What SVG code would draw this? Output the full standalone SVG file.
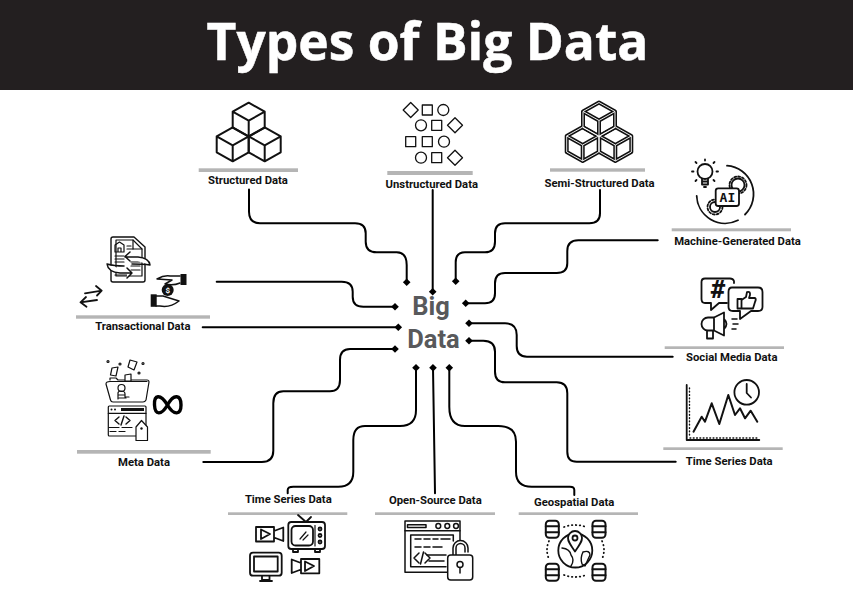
<svg xmlns="http://www.w3.org/2000/svg" width="853" height="597" viewBox="0 0 853 597">
<style>
.lbl{font-family:"Roboto","Liberation Sans",sans-serif;font-weight:700;font-size:11.300px;fill:#111;text-anchor:middle}
.bar{fill:#b5b5b5}
.cn{fill:none;stroke:#000;stroke-width:2;stroke-linecap:round;marker-end:url(#dia)}
.i{fill:none;stroke:#111;stroke-width:1.8;stroke-linecap:round;stroke-linejoin:round}
.t{stroke-width:1.2}
.w{fill:#fff}
.k{fill:#111;stroke:none}
.big{font-family:"Roboto","Noto Sans",sans-serif;font-weight:700;font-size:25.500px;fill:#58595b;text-anchor:middle}
.mono{font-family:"DejaVu Sans Mono","Liberation Mono",monospace;font-weight:700;fill:#111;stroke:none;text-anchor:middle}
</style>
<defs>
<marker id="dia" markerUnits="userSpaceOnUse" markerWidth="10" markerHeight="10" refX="5" refY="5" orient="auto"><path d="M5,1.200 8.800,5 5,8.800 1.200,5Z" fill="#000"/></marker>
<path id="cube" fill="none" stroke-linejoin="round" d="M0,0 16,9V25L0,34-16,25V9ZM-16,9 0,18 16,9M0,18V34"/>
<g id="cyl" class="i" style="stroke-width:2"><rect x="-6.500" y="-8.500" width="13" height="17" rx="3.500" class="w"/><path d="M-6.500,-3H6.500M-6.500,3H6.500"/></g>
</defs>
<rect width="853" height="90" fill="#231f20"/>
<text x="427.500" y="60" text-anchor="middle" font-family="'Open Sans','Noto Sans',sans-serif" font-weight="700" font-size="51.500" fill="#fff" stroke="#fff" stroke-width="0.500" id="title">Types of Big Data</text>

<g id="connectors">
<path class="cn" d="M249,189.500V211.700Q249,223.300 260,223.300H355Q365.700,223.300 365.700,233.300V241.700Q365.700,252.300 376.700,252.300H396.700Q406.700,252.300 406.700,265V282.300"/>
<path class="cn" d="M432.700,190V291.700"/>
<path class="cn" d="M216.700,281.700H341.700Q352.700,281.700 352.700,291.700V296.700Q352.700,306.700 363.300,306.700H395"/>
<path class="cn" d="M202.700,327.300H398.300"/>
<path class="cn" d="M600,190V213.300Q600,223.300 589.300,223.300H505Q495,223.300 495,233.300V241.700Q495,252.300 485,252.300H465Q455.700,252.300 455.700,262.300V281.300"/>
<path class="cn" d="M657.700,240.300H578.300Q567.300,240.300 567.300,251V263.300Q567.300,273 556.700,273H505Q495,273 495,283.300V293.300Q495,303.300 485,303.300H465.700"/>
<path class="cn" d="M672.700,356.700H527Q516.700,356.700 516.700,346V335Q516.700,323.300 505,323.300H469"/>
<path class="cn" d="M675.700,461.700H576.700Q567.300,461.700 567.300,451.700V393.300Q567.300,382.300 556.700,382.300H505Q495,382.300 495,371.700V351.700Q495,340.700 483.300,340.700H469"/>
<path class="cn" d="M203.300,462H261.700Q273.300,462 273.300,450.700V403.300Q273.300,391.300 283.300,391.300H330Q340,391.300 340,380V360Q340,349 350,349H395"/>
<path class="cn" d="M287.700,493.300V490Q287.700,486.700 293.300,486.700H338.300Q353.300,486.700 353.300,471.700V440Q353.300,426 365,426H400Q416,426 416,410V367.700"/>
<path class="cn" d="M435,493.300 433,367.700"/>
<path class="cn" d="M574.300,495V490Q574.300,486.700 570,486.700H531.700Q516,486.700 516,471.700V441.700Q516,426 498.300,426H465Q449.300,426 449.300,406.700V367.700"/>
</g>

<g id="center"><text class="big" x="431" y="315">Big</text><text class="big" x="433.500" y="348.300">Data</text></g>

<g id="structured">
<g stroke="#111" stroke-width="2"><use href="#cube" x="248.700" y="102.700"/><use href="#cube" x="232.700" y="127.300"/><use href="#cube" x="264.700" y="127.300"/></g>
<rect class="bar" x="198.700" y="168.300" width="99.300" height="3.700"/>
<text class="lbl" x="248" y="184">Structured Data</text>
</g>

<g id="unstructured">
<g class="i t" style="stroke-width:1.300">
<path d="M410.700,102.500 418.200,110 410.700,117.500 403.200,110Z"/><rect x="422.300" y="105" width="10" height="10"/><circle cx="443.300" cy="110" r="5.500"/>
<circle cx="421" cy="125.300" r="5.500"/><rect x="431.700" y="120.300" width="10" height="10"/><path d="M455,117.800 462.500,125.300 455,132.800 447.500,125.300Z"/>
<rect x="405.700" y="136.700" width="10" height="10"/><rect x="422.300" y="136.700" width="10" height="10"/><circle cx="444" cy="141.700" r="5.500"/>
<circle cx="421" cy="157.700" r="5.500"/><rect x="431.700" y="152.700" width="10" height="10"/><path d="M455,150.200 462.500,157.700 455,165.200 447.500,157.700Z"/>
</g>
<rect class="bar" x="387.300" y="171" width="85.400" height="4"/>
<text class="lbl" x="431.800" y="187.700">Unstructured Data</text>
</g>

<g id="semi-structured">
<g stroke="#111" stroke-width="4"><use href="#cube" x="599" y="102.500"/><use href="#cube" x="582.700" y="127"/><use href="#cube" x="615.300" y="127"/></g>
<g stroke="#fff" stroke-width="0.900"><use href="#cube" x="599" y="102.500"/><use href="#cube" x="582.700" y="127"/><use href="#cube" x="615.300" y="127"/></g>
<rect class="bar" x="550" y="168.300" width="95" height="3.400"/>
<text class="lbl" x="599.500" y="186.700">Semi-Structured Data</text>
</g>

<g id="machine">
<g class="i">
<path d="M727,165.700A28.500,28.500 0 0 1 745,214.500M738,220.300A28.500,28.500 0 0 1 696.700,196"/>
<circle cx="705" cy="171.500" r="7.500"/><path d="M702,178.500V184.500H708V178.500M702,181.500H708M704,187H706"/>
<path d="M705,159.500V160.500M693.500,171.500H692M716.500,171.500H718M696.500,163 695.500,162M713.500,163 714.500,162M696.500,180 695.500,181M713.500,180 714.500,181"/>
<circle cx="738" cy="185" r="6.500"/><circle cx="738" cy="185" r="8.500" stroke-dasharray="2 2"/>
<circle cx="715" cy="207" r="5"/><circle cx="715" cy="207" r="7.500" stroke-dasharray="2 2"/>
<rect x="715.700" y="188.300" width="23.300" height="17.700" rx="2.500" class="w"/>
<text class="mono" x="727.400" y="201.500" font-size="13">AI</text>
</g>
<rect class="bar" x="671.700" y="228.300" width="119.300" height="3"/>
<text class="lbl" x="737.500" y="245">Machine-Generated Data</text>
</g>

<g id="transactional">
<g class="i">
<path d="M113,237H134L145,247V280Q145,282 143,282H113Q111,282 111,280V239Q111,237 113,237Z" stroke-width="1.400"/>
<path d="M116,240H133L142,249V276H116Z" class="t"/>
<path d="M133,240V249H142" class="t"/>
<path d="M115,252V245L119.500,242 124,245V252Z M118,252V248H121V252" class="t"/>
<path class="t" d="M127,246H131M127,249H133M115,256H124M115,259H124M115,262H124M131,262H140M131,266H140M131,270H140M115,275H130"/>
<path d="M150,265Q149,258 138,257H125M130,252 125,256.500 130,261M150,265Q143,264 132,264" class="w" stroke-width="1.500"/>
<path d="M107,264Q108,272 120,273H132M127,268 132,273 127,278M107,264Q114,266 124,266" class="w" stroke-width="1.500"/>
<path d="M180,276H170Q164,275 157,279L172,280 165,284Q173,286 180,283" stroke-width="1.500"/>
<path d="M156,296H163L179,301Q170,308 160,306H156" stroke-width="1.500"/>
<rect x="180.500" y="274" width="6" height="11" class="k"/><rect x="150.700" y="294.300" width="6" height="12.500" class="k"/>
<circle cx="167.700" cy="290" r="6" class="k"/>
<path d="M85,293.300 101.700,290.700M96,286 101.700,290.700 97,295.500M97,300 80.500,302.300M86,297 80.500,302.300 86.500,306.700"/>
</g>
<text x="167.700" y="293" font-family="Roboto,sans-serif" font-size="8" font-weight="700" fill="#fff" text-anchor="middle">$</text>
<rect class="bar" x="76" y="315.300" width="134" height="3.400"/>
<text class="lbl" x="142.800" y="330.300">Transactional Data</text>
</g>

<g id="meta">
<g class="i t">
<path d="M110,380V378H116L118,380H147Q149,380 149,382L146,400Q145,402 143,402H113Q111,402 110.500,400L106,384Q106,381.500 110,381.500H147"/>
<path d="M112,368 118,367 116,376 110.500,375Z" class="w"/><path d="M130,360 137,362 134,370 128,367Z" class="w"/><path d="M125,375 131,374 131,381 125,381Z" class="w"/>
<circle cx="108" cy="361.500" r="1"/><circle cx="120" cy="364" r="1"/><circle cx="143" cy="363.500" r="1"/><circle cx="139" cy="373" r="1"/>
<circle cx="121.500" cy="388" r="3.500"/><path d="M118,399V393Q118,391 121,391Q125,391 125,394V397H129M118,395H125M119,398H126"/>
<rect x="108.300" y="406" width="37.700" height="30" rx="1"/>
<path d="M108.300,413.300H146M109,427.500H119M122,427.500H132M110,431.500H116M119,431.500H125"/>
<rect x="121" y="408" width="23" height="3" class="k"/><circle cx="111.500" cy="409.500" r="1" class="k"/><circle cx="115" cy="409.500" r="1" class="k"/>
<path d="M119,417 115,420.500 119,424M126,417 130,420.500 126,424M124,416 121,425" stroke-width="1.400"/>
<path d="M141.500,420.500 147.500,427V440.500H136V427Z" class="w"/><circle cx="141.500" cy="428.500" r="1.200" class="k"/>
</g>
<path d="M167.500,405C160,393 154,395 154.500,405 155,415 161,416 167.500,405 174,393 181,395 181,405 181,415 174,416 167.500,405Z" fill="none" stroke="#000" stroke-width="3.400"/>
<rect class="bar" x="77" y="450" width="133.700" height="3.700"/>
<text class="lbl" x="144" y="465.700">Meta Data</text>
</g>

<g id="social">
<g class="i">
<path d="M734,283V281Q733,278.500 730,278.500H705Q701.500,278.500 701.500,282V299Q701.500,303 705,303H711V310L719,303H727"/>
<path d="M732,287.500H758Q762.500,287.500 762.500,292V307Q762.500,311 758,311H751L740,319V311H733Q728.500,311 728.500,307V292Q728.500,287.500 732,287.500Z"/>
<path d="M737.500,299H741.500V308.500H737.500ZM741.500,300 746,297 747,292Q750.500,291 750,295L749,298H755Q756.500,299 755,302L753,308.500H741.500"/>
<path d="M714,317.500H708A6.500,6.500 0 0 0 708,330.500H714ZM714,317.500 724,312.500V335.500L714,330.500M707,331V338.500H713V331M724,319Q729,324 724,329"/>
<path d="M732,319H737M733,324H738M732,329H736" stroke-width="1.500"/>
<text class="mono" x="718" y="298" font-size="24">#</text>
</g>
<rect class="bar" x="664.700" y="346.300" width="119.300" height="2.700"/>
<text class="lbl" x="731.700" y="360.700">Social Media Data</text>
</g>

<g id="time-right">
<g class="i">
<path d="M686.700,385V440H759.300"/><path d="M689.500,388V437M690,438H757" stroke-dasharray="0.800 2.500" stroke-width="1.400"/>
<path d="M693.500,431.700 701.700,416.700 705,421.700 711.700,403.300 719.300,424 728.300,395 735,415 740,408.300 745,418.300 750.700,410.700 757.300,421.700" stroke-width="2"/>
<circle cx="746.700" cy="392.300" r="12.300" class="w"/><path d="M746.700,384V393L751,397.500"/>
</g>
<rect class="bar" x="663.300" y="447.300" width="119.400" height="2.700"/>
<text class="lbl" x="729.200" y="465">Time Series Data</text>
</g>

<g id="time-bottom">
<text class="lbl" x="288.300" y="503.300">Time Series Data</text>
<rect class="bar" x="228" y="512.300" width="119.300" height="2.700"/>
<g class="i">
<path d="M256,527H274V541.500H256ZM274,531 283.300,527.500V541L274,537.500M261,529.500 270,534 261,539Z"/>
<path d="M298,515 306,522 311,517"/>
<rect x="288.300" y="522" width="36.700" height="27" rx="3"/>
<rect x="291.500" y="526" width="21.500" height="19.500" rx="4"/>
<path d="M300,539 306,532M303,540 308,535" stroke-width="1.200"/>
<path d="M315,525.500V546" stroke-width="1.200"/><circle cx="320" cy="529" r="1.500"/><circle cx="320" cy="535.500" r="1.500"/><circle cx="320" cy="542" r="1.500"/>
<path d="M293,549V552H298V549M315,549V552H320V549"/>
<rect x="250" y="552.700" width="31.700" height="23" rx="3"/><rect x="254" y="556.500" width="23.700" height="15"/>
<path d="M262,576V580H269.500V576M260,581H272"/>
<path d="M301,559H319.300V573.300H301ZM301,563 291.700,559.500V573L301,569.500M305,561.500 314,566 305,571Z"/>
</g>
</g>

<g id="open-source">
<text class="lbl" x="435.300" y="504">Open-Source Data</text>
<rect class="bar" x="375" y="512.300" width="120" height="2.700"/>
<g class="i" style="stroke-width:1.500">
<path d="M447,572.300H405V521H460V540"/>
<path d="M405,530.700H460M410.700,560V535H453.300V541M410.700,560V566.700H446"/>
<rect x="407.500" y="524.800" width="18.500" height="2.600"/>
<circle cx="438.300" cy="526" r="2.400"/><circle cx="447.300" cy="526" r="2.400"/><circle cx="456" cy="526" r="2.400"/>
<path d="M415,539H421M424,539H430M433,539H438M441,539H450M415,547H421M424,547H430M433,547H442M427,555H446M429,561H444"/>
<path d="M419,553 414,558 419,563M425,553 430,558 425,563M423.500,552 420.500,564"/>
<path d="M453,555V548A7.500,7.500 0 0 1 468,548V552M456,555V548A4.500,4.500 0 0 1 465,548V552" stroke-width="1.500"/>
<rect x="447.700" y="555" width="25" height="25" rx="3" class="w"/>
<circle cx="460" cy="564.500" r="3"/><path d="M460,567.500V573"/>
</g>
</g>

<g id="geospatial">
<text class="lbl" x="574.200" y="505.700">Geospatial Data</text>
<rect class="bar" x="518.700" y="512.300" width="119.300" height="2.700"/>
<use href="#cyl" x="552.300" y="529.300"/><use href="#cyl" x="599" y="529.300"/><use href="#cyl" x="552.300" y="572.300"/><use href="#cyl" x="599" y="572.300"/>
<g class="i">
<path d="M564,527Q575,523 586,527M564,575Q575,579 586,575M549,541Q545,550 549,559M602,541Q606,550 602,559" stroke-dasharray="0.500 3.500"/>
<circle cx="575.300" cy="550.500" r="17"/>
<path d="M562,548Q570,549 571,555Q575,560 571,566M583,552Q590,550 590,555L585,566 582,564Q580,558 583,552" stroke-width="1.400"/>
<path d="M575,551.500C569,543 568,541 568,538A7,7 0 0 1 582,538C582,541 581,543 575,551.500Z" class="w"/><circle cx="575" cy="538" r="2.500"/>
</g>
</g>
</svg>
